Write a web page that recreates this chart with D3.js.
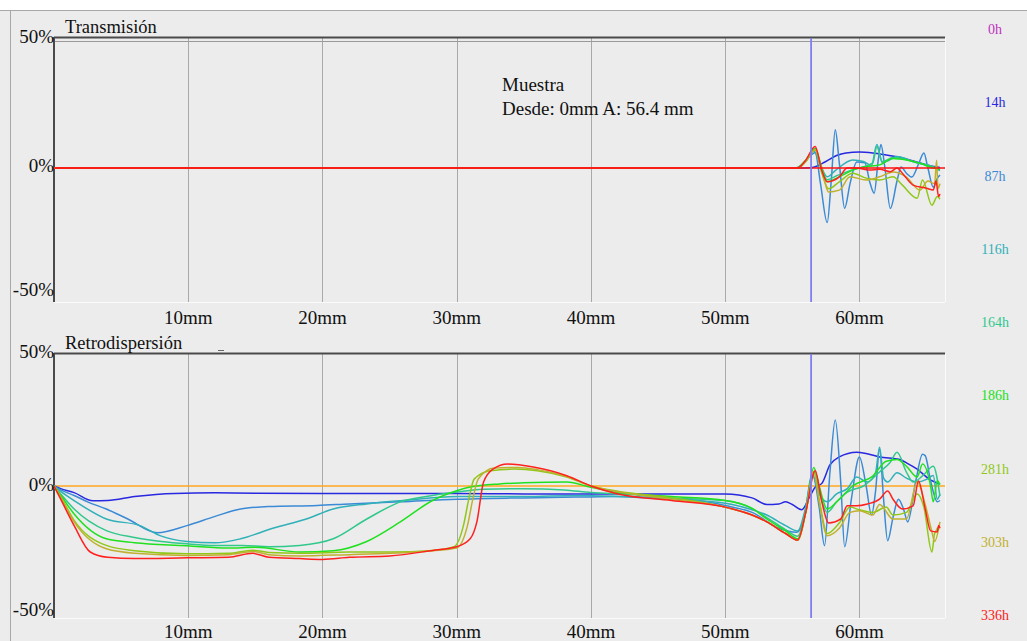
<!DOCTYPE html>
<html>
<head>
<meta charset="utf-8">
<script src="https://cdn.jsdelivr.net/npm/d3@7"></script>
<style>
  html, body { margin: 0; padding: 0; background: #ececec; }
  svg { display: block; }
  text { font-family: "Liberation Serif", "Times New Roman", serif; }
</style>
</head>
<body>
<svg id="chart" width="1027" height="641"></svg>
<script>
// Sample times shown in the legend and their colours
const hours = ["0h", "14h", "87h", "116h", "164h", "186h", "281h", "303h", "336h"];
const hourColors = ["#c030c0", "#2828e0", "#3a8ad6", "#30b0b8", "#30c88c", "#20e020", "#90c818", "#c0b030", "#ff2020"];

// Axis ticks
const xTicks = [10, 20, 30, 40, 50, 60];
const yTicks = [50, 0, -50];
const markerMm = 56.4;

// Transmission curves, [height mm, delta %]
const trans14h = [[0,0],[55.5,0],[56.5,0.2],[57.5,2.5],[58.3,4.8],[59,5.8],[60,6.2],[61,5.8],[62,5.0],[62.8,4.3],[63.8,3.0],[65,1.2],[66,0.2]];
const trans87h = [[0,0],[55.2,0],[55.8,1.5],[56.3,4.5],[56.7,6],[57.1,-6],[57.6,-21],[57.9,-5],[58.2,14.7],[58.5,2],[58.9,-15.5],[59.3,-6],[59.8,2.3],[60.4,2],[60.8,-6],[61.1,-9.7],[61.4,3],[61.6,9],[61.9,0],[62.3,-15.5],[62.8,-5],[63.1,0.4],[63.5,-2],[63.9,-3.5],[64.4,1.5],[64.8,5.8],[65.1,0],[65.5,-7.4],[65.8,-4],[66,-2.7]];
const trans116h = [[0,0],[55.3,0],[56,2.5],[56.6,6.5],[57.1,1],[57.6,-3.4],[58.2,-1],[59.5,3.1],[60.3,2.5],[60.9,1],[61.3,9],[61.7,2],[62.2,3],[62.8,4.4],[63.5,3.5],[64,2.4],[65,1.2],[65.8,-0.5],[66,-1]];
const trans164h = [[0,0],[55.3,0],[56,3],[56.7,7.5],[57.2,-1],[57.6,-4.5],[58.3,-3],[59.3,-1],[60.3,0.5],[61,2],[61.3,8.3],[61.7,2.5],[62.5,4],[63.3,3.5],[64.3,2],[65.2,1],[66,-0.5]];
const trans186h = [[0,0],[55.3,0],[56,3],[56.7,7.5],[57.2,0],[57.6,-5.3],[58.5,-3.4],[59.5,-0.8],[60.5,0.5],[61.5,1.2],[62.5,3.7],[63.5,3.1],[64.5,1.8],[65.5,0],[66,-0.5]];
const trans281h = [[0,0],[55.4,0],[56,2.5],[56.7,7],[57.2,-2],[57.7,-8],[58.5,-5.3],[59.5,-2],[60.5,-3.9],[61.5,-4.6],[62.5,-3.4],[63.2,-6.6],[64.3,-11.6],[64.7,-4.6],[65.4,-14.3],[65.8,-11],[66,-12]];
const trans303h = [[0,0],[55.4,0],[56,2.5],[56.7,7],[57.3,-3],[57.7,-9.2],[58.5,-8.5],[59.3,-3.4],[60.5,-4.6],[61.5,-3.4],[62.5,-1.5],[63.5,-3.5],[64.5,-8.5],[65.1,-5],[65.6,-6],[65.75,3],[65.85,-8],[66,-6]];
const trans336h = [[0,0],[55.4,0],[56,3],[56.7,8.3],[57.2,-1],[57.6,-5.3],[58.5,-3.4],[59.1,0],[59.8,0],[60.7,-0.8],[61.5,-0.5],[62.3,-1.4],[62.8,0],[63.2,-2],[64,-6.6],[65,-7.8],[65.5,-8.5],[65.7,-5],[65.9,-11],[66,-10]];

// Backscattering curves, [height mm, delta %]
const back14h = [[0,0],[0.5,-1],[1.5,-2.5],[2.9,-5.6],[4,-5.5],[6,-4],[9,-2.8],[12,-2.6],[15,-2.7],[20,-2.8],[25,-2.8],[30,-2.8],[35,-3],[40,-3],[45,-3],[50,-3],[52,-4.5],[53.1,-7],[54,-6.8],[54.5,-6],[55,-7],[55.7,-9],[56.3,-4],[56.7,-0.5],[57.2,1],[57.8,8],[58.5,11],[59.8,12.8],[60.5,12.3],[61.5,11],[63,10],[63.6,8.5],[64.3,6.4],[65.2,2.6],[66,0.7]];
const back87h = [[0,0],[0.5,-1.5],[1.5,-3.6],[2.5,-6],[3.9,-8.7],[5.5,-12.5],[7.7,-17.7],[9.9,-15],[12,-11.5],[13.9,-8.7],[16,-7.8],[19.6,-7.4],[22,-6.8],[25.8,-6],[30,-5],[35,-4.5],[39,-4.2],[42,-4],[45,-4.5],[48,-5.5],[50,-7.4],[52,-10],[54,-16],[55.3,-17.5],[55.8,-14],[56.5,4.5],[57.0,-8],[57.4,-22.6],[57.8,5],[58.2,25],[58.6,2],[58.9,-23],[59.4,-5],[60,11],[60.5,0],[60.9,-11],[61.2,-2],[61.5,14],[61.8,-5],[62.1,-20.7],[62.5,-12],[62.9,-5],[63.3,-9],[63.6,-13.6],[64.2,2],[64.7,12],[64.9,11.5],[65.3,2],[65.8,-6],[66,-5.5]];
const back116h = [[0,0],[0.5,-2],[1.5,-5.5],[3.9,-12.5],[6.4,-15],[8,-19],[9.9,-21],[12,-21.5],[13.9,-20],[16.3,-16],[18.8,-12.5],[20.8,-8.7],[23.3,-6.8],[26,-5.5],[30,-4],[35,-4],[39,-3.6],[42,-4],[46,-5],[50,-6.5],[52,-9],[53.1,-11],[54.5,-15],[55.4,-17],[56,-8],[56.5,4],[57,-3],[57.6,-6],[58.3,-3],[59.1,-1],[59.8,3.4],[60.6,1.5],[61.2,5],[61.5,14.7],[61.8,3],[62.1,1.5],[62.8,5],[63.5,3],[64.3,1.5],[65,2.5],[65.5,4],[65.8,-5],[66,-3]];
const back164h = [[0,0],[0.5,-3],[1.5,-8.7],[3.9,-16.9],[6,-19.5],[8,-21],[9.9,-21.9],[12,-22.5],[14,-22.5],[16,-23],[18.3,-22.5],[20.8,-20],[23.3,-12.5],[25.8,-6],[28.2,-3.6],[30,-2.3],[32,-1.2],[35,-1],[38,-1.5],[40,-2.5],[43,-3.2],[46,-4.5],[50,-5.5],[52,-8.5],[53.1,-12],[54.5,-16.5],[55.4,-19],[56,-10],[56.6,5.5],[57,-2],[57.6,-10],[58.3,-6],[59.1,-2.3],[60.3,0],[61.5,5.3],[62.3,9],[62.8,12.8],[63.5,5.3],[64,1.5],[64.7,3.8],[65.5,7.5],[66,-3.8]];
const back186h = [[0,0],[0.5,-3.5],[1.5,-10.6],[3.9,-20],[6,-21.5],[9.9,-22.6],[13,-23.5],[15,-23.2],[18.3,-25],[20.8,-24.5],[23.3,-21],[25.8,-13.6],[28.2,-5.5],[30,-1.8],[31,-0.4],[33.2,0.8],[35,1.2],[38.2,1.5],[40,-0.5],[42,-2.5],[46,-4],[50,-5.5],[52,-8.5],[53.1,-12.5],[54.5,-17],[55.4,-20],[56,-10],[56.6,7],[57,0],[57.6,-8.7],[58.5,-5],[59.5,0],[61,3.8],[62,9.4],[62.8,10],[63.5,7.5],[64.3,3.4],[64.7,8.3],[65.3,0],[65.5,-6],[65.8,2],[66,0.5]];
const back281h = [[0,0],[0.5,-4],[1.5,-13],[3.9,-22.5],[6,-24.5],[9.9,-25.7],[13,-25.5],[14.8,-24.3],[16,-25.2],[18.3,-25.5],[22,-25],[25,-25],[28.2,-24.4],[29.8,-23],[30.5,-15],[30.9,-5],[31.3,2.6],[32.5,5.8],[34.3,6.4],[36,5.8],[38.2,3.4],[40,0],[42,-2],[46,-4.5],[50,-8],[52,-11],[53.1,-13.6],[54.5,-18],[55.4,-20.5],[56,-10],[56.6,5.5],[57,-5],[57.6,-18],[58.5,-14],[59.3,-8],[60,-9],[61,-10],[62,-8],[62.5,-11],[63.5,-10],[64.3,-3],[64.8,-8],[65.4,-25],[65.6,-18],[66,-15]];
const back303h = [[0,0],[0.5,-4.5],[1.5,-13.6],[3.9,-23.8],[6,-25.5],[9.9,-26.3],[13,-26],[14.8,-24.8],[16,-26],[18.3,-26.5],[22,-26],[25,-25.5],[28.2,-24.5],[30,-23.5],[30.8,-15],[31.2,-5],[31.6,2.6],[32.8,6.8],[34.5,7],[36,6.2],[38.2,3.6],[40,0],[42,-2.2],[46,-5],[50,-8],[52,-11],[53.1,-13.6],[54.5,-18],[55.4,-20.5],[56,-10],[56.6,5.5],[57,-6],[57.6,-18.8],[58.5,-16],[59.3,-10],[60,-9.4],[61,-11],[61.5,-7],[62.5,-12.5],[63.5,-12.5],[64.3,1.5],[64.9,-7],[65.4,-17.4],[65.6,-21],[66,-13.6]];
const back336h = [[0,0],[0.5,-5],[1.5,-15],[2.7,-25],[4,-27],[6,-27.5],[9.9,-27.2],[13,-27],[14.8,-25.5],[16,-27],[18.3,-27.5],[20,-27.8],[22,-27],[25,-26.5],[28.2,-24.4],[30,-23],[31,-20],[31.5,-13.6],[32,1.5],[32.7,6.4],[33.8,8.3],[35.7,7.2],[38.2,3.9],[40,0],[42,-3],[46,-5.5],[50,-8],[52,-11],[53.1,-13.6],[54.5,-18],[55.4,-20.5],[56,-10],[56.7,5.8],[57.2,-6],[57.7,-14],[58.6,-12.5],[59.1,-7.5],[59.8,-7.5],[60.6,-6.8],[61.5,-5],[62.1,-1.9],[62.5,-5],[63.2,-8.7],[64,-7.5],[64.4,1.9],[64.9,-8.7],[65.3,-17],[65.8,-17.4],[65.9,-15],[66,-16]];

const transSeries = [trans14h, trans87h, trans116h, trans164h, trans186h, trans281h, trans303h, trans336h];
const backSeries = [back14h, back87h, back116h, back164h, back186h, back281h, back303h, back336h];

const svg = d3.select("#chart");
const W = 1027, H = 641;

// window frame
svg.append("rect").attr("width", W).attr("height", H).attr("fill", "#ececec");
svg.append("rect").attr("width", W).attr("height", 10).attr("fill", "#ffffff");
svg.append("line").attr("x1", 0).attr("x2", W).attr("y1", 10.5).attr("y2", 10.5).attr("stroke", "#a8a8a8");
svg.append("line").attr("x1", 10.5).attr("x2", 10.5).attr("y1", 10).attr("y2", H).attr("stroke", "#a8a8a8");

const x = d3.scaleLinear().domain([0, 66.3]).range([54, 944]);
const plotLeft = 54, plotRight = 945;

const panels = [
  { title: "Transmisión", series: transSeries, top: 38, bottom: 302,
    y: d3.scaleLinear().domain([-50, 50]).range([298, 38]), ref: "#ff1010", refOnTop: true,
    tickY: 324, labelOffsets: { "50": 5, "0": 4, "-50": -2 } },
  { title: "Retrodispersión", series: backSeries, top: 354, bottom: 618,
    y: d3.scaleLinear().domain([-50, 50]).range([618, 354]), ref: "#ffa820", refOnTop: false,
    tickY: 638, labelOffsets: { "50": 4, "0": 5, "-50": -2 } }
];

const line = d3.line().curve(d3.curveMonotoneX);

panels.forEach(p => {
  const g = svg.append("g");
  const y = p.y;

  // vertical grid
  g.selectAll(".grid").data(xTicks).join("line")
    .attr("x1", d => Math.round(x(d)) + 0.5).attr("x2", d => Math.round(x(d)) + 0.5)
    .attr("y1", p.top).attr("y2", p.bottom)
    .attr("stroke", "#a9a9a9").attr("stroke-width", 1);

  // frame edges
  g.append("line").attr("x1", plotLeft).attr("x2", plotRight)
    .attr("y1", p.bottom + 0.5).attr("y2", p.bottom + 0.5).attr("stroke", "#fafafa");
  g.append("line").attr("x1", plotRight + 0.5).attr("x2", plotRight + 0.5)
    .attr("y1", p.top).attr("y2", p.bottom).attr("stroke", "#fafafa");
  g.append("line").attr("x1", plotLeft).attr("x2", plotRight)
    .attr("y1", p.top - 0.5).attr("y2", p.top - 0.5).attr("stroke", "#4a4a4a").attr("stroke-width", 2);
  if (p.refOnTop) {
    g.append("line").attr("x1", plotLeft).attr("x2", plotRight)
      .attr("y1", p.top + 3.5).attr("y2", p.top + 3.5).attr("stroke", "#9a9a9a");
  }
  g.append("line").attr("x1", plotLeft).attr("x2", plotLeft)
    .attr("y1", p.top - 1).attr("y2", p.bottom).attr("stroke", "#4a4a4a").attr("stroke-width", 2);

  const ref = () => g.append("line").attr("x1", plotLeft + 1).attr("x2", plotRight)
    .attr("y1", y(0)).attr("y2", y(0)).attr("stroke", p.ref).attr("stroke-width", 1.4);

  if (!p.refOnTop) ref();

  g.selectAll(".curve").data(p.series).join("path")
    .attr("d", d => line(d.map(([mm, v]) => [x(mm), y(v)])))
    .attr("fill", "none")
    .attr("stroke", (d, i) => hourColors[i + 1])
    .attr("stroke-width", 1.5)
    .attr("stroke-linejoin", "round");

  if (p.refOnTop) ref();

  // position marker
  g.append("line").attr("x1", x(markerMm)).attr("x2", x(markerMm))
    .attr("y1", p.top).attr("y2", p.bottom)
    .attr("stroke", "#7f7ff0").attr("stroke-width", 1.8);

  // y labels
  g.selectAll(".ylab").data(yTicks).join("text")
    .attr("x", 54).attr("y", d => y(d) + p.labelOffsets[String(d)])
    .attr("text-anchor", "end").attr("font-size", 19).attr("fill", "#111")
    .text(d => d + "%");

  // x labels
  g.selectAll(".xlab").data(xTicks).join("text")
    .attr("x", d => x(d)).attr("y", p.tickY)
    .attr("text-anchor", "middle").attr("font-size", 19).attr("fill", "#111")
    .text(d => d + "mm");

  // title
  g.append("text").attr("x", 65).attr("y", p.top - 5)
    .attr("font-size", 18.5).attr("fill", "#111").text(p.title);
});

// small tick mark beside the lower title
svg.append("line").attr("x1", 218).attr("x2", 224).attr("y1", 350.5).attr("y2", 350.5)
  .attr("stroke", "#666").attr("stroke-width", 1);

// sample annotation
svg.append("text").attr("x", 502).attr("y", 91).attr("font-size", 19).attr("fill", "#111").text("Muestra");
svg.append("text").attr("x", 502).attr("y", 115).attr("font-size", 19).attr("fill", "#111")
  .text("Desde: 0mm A: " + markerMm + " mm");

// legend of sample times
const legendY = d3.scalePoint().domain(hours).range([34, 620]);
svg.selectAll(".leg").data(hours).join("text")
  .attr("x", 995).attr("y", d => legendY(d))
  .attr("text-anchor", "middle").attr("font-size", 14)
  .attr("fill", (d, i) => hourColors[i])
  .text(d => d);
</script>
</body>
</html>
